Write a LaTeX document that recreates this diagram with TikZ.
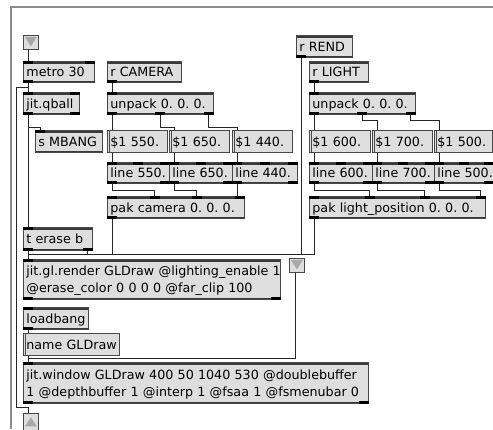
\documentclass[tikz,border=0pt]{standalone}
\usepackage{fontspec}
\newfontfamily\maxfont{DejaVu Sans}
\usetikzlibrary{calc}
\definecolor{mFill}{RGB}{222,222,222}
\definecolor{mLine}{RGB}{72,72,72}
\definecolor{mBand}{RGB}{58,58,58}
\definecolor{mFrame}{RGB}{140,140,140}
\definecolor{mTri}{RGB}{168,168,168}
\tikzset{
  obj/.style={draw=mLine, fill=mFill, line width=0.8pt, anchor=north west,
              inner xsep=3pt, inner ysep=0pt, align=left,
              font=\maxfont\fontsize{12.7pt}{17pt}\selectfont\frenchspacing,
              path picture={
                \fill[mBand] (path picture bounding box.north west)
                  rectangle ([yshift=-2.5pt]path picture bounding box.north east);
                \fill[mBand] (path picture bounding box.south west)
                  rectangle ([yshift=1.5pt]path picture bounding box.south east);}},
  msg/.style={path picture={
                \draw[mLine, line width=0.6pt]
                  ([xshift=2.2pt]path picture bounding box.north west)
                  -- ([xshift=2.2pt]path picture bounding box.south west);}},
  inlt/.style={draw=mLine, fill=mFill, line width=0.8pt, anchor=north west,
               minimum width=15pt, minimum height=14pt, inner sep=0pt,
               path picture={
                 \fill[mTri] ([shift={(1.5pt,-1.5pt)}]path picture bounding box.north west)
                   -- ([shift={(-1.5pt,-1.5pt)}]path picture bounding box.north east)
                   -- ([yshift=3pt]path picture bounding box.south) -- cycle;}},
  outlt/.style={inlt, minimum height=18pt,
               path picture={
                 \fill[mTri] ([shift={(1.5pt,5pt)}]path picture bounding box.south west)
                   -- ([shift={(-1.5pt,5pt)}]path picture bounding box.south east)
                   -- ([yshift=-4pt]path picture bounding box.north) -- cycle;}},
  tab/.style={fill=black},
  wire/.style={draw=black!85, line width=0.9pt},
  frame/.style={draw=mFrame, line width=1.4pt},
}
% box from (x0,y0) to (x1,y1), text set flush left, never broken
\newcommand{\MaxObj}[7][]{%
  \pgfmathsetlengthmacro{\boxtw}{(#5)-(#3)-6}%
  \pgfmathsetlengthmacro{\boxht}{(#6)-(#4)}%
  \node[obj,#1,text width=\boxtw,minimum height=\boxht] (#2) at (#3,#4)
    {\raisebox{-1.5pt}[\height][\depth]{\begin{tabular}{@{}l@{}}#7\end{tabular}}};}
% black inlet / outlet tabs
\newcommand{\Ports}[3]{%
  \ifnum#2>0
    \foreach \i in {1,...,#2}{%
      \pgfmathsetmacro{\portf}{(\i-1)/max(#2-1,1)}%
      \fill[tab] ($(#1.north west)!\portf!(#1.north east)+(-10*\portf,0)$) rectangle ++(10,2.5);}%
  \fi
  \ifnum#3>0
    \foreach \i in {1,...,#3}{%
      \pgfmathsetmacro{\portf}{(\i-1)/max(#3-1,1)}%
      \fill[tab] ($(#1.south west)!\portf!(#1.south east)+(-10*\portf,0)$) rectangle ++(10,-2.5);}%
  \fi}

\begin{document}
\begin{tikzpicture}[x=1pt,y=-1pt]
  \useasboundingbox (0,0) rectangle (493,429);
  \fill[white] (0,0) rectangle (493,429);
  \draw[frame] (10,7) -- (493,7);
  \draw[frame] (11,7) -- (11,429);

  %====================== LEFT COLUMN ======================
  \node[inlt] (inA) at (23,35) {};
  \MaxObj{metro}{23}{61}{94}{82}{metro 30}
  \MaxObj{qball}{23}{92}{79}{114}{jit.qball}
  \MaxObj{smbang}{35}{130}{102}{152}{s MBANG}
  \MaxObj{terase}{23}{227}{92}{250}{t erase b}
  \MaxObj{render}{23}{259}{280}{299}{jit.gl.render GLDraw @lighting\_enable 1\\@erase\_color 0 0 0 0 @far\_clip 100}
  \node[inlt] (inB) at (289,258) {};
  \MaxObj{loadbang}{23}{307}{88}{329}{loadbang}
  \MaxObj[msg]{nameGL}{23}{333}{119}{355}{name GLDraw}
  \MaxObj{window}{23}{362}{368}{403}{jit.window GLDraw 400 50 1040 530 @doublebuffer\\1 @depthbuffer 1 @interp 1 @fsaa 1 @fsmenubar 0}
  \node[outlt] (outC) at (23,413) {};

  %====================== CAMERA ======================
  \MaxObj{rcam}{107}{61}{181}{82}{r CAMERA}
  \MaxObj{unpackC}{107}{92}{213}{114}{unpack 0. 0. 0.}
  \MaxObj[msg]{m550}{107}{130}{167}{152}{\$1 550.}
  \MaxObj[msg]{m650}{169}{130}{229}{152}{\$1 650.}
  \MaxObj[msg]{m440}{232}{130}{292}{152}{\$1 440.}
  \MaxObj{l550}{107}{162}{169}{183}{line 550.}
  \MaxObj{l650}{169}{162}{232}{183}{line 650.}
  \MaxObj{l440}{232}{162}{297}{183}{line 440.}
  \MaxObj{pakC}{107}{196}{244}{218}{pak camera 0. 0. 0.}

  %====================== LIGHT ======================
  \MaxObj{rrend}{296}{35}{352}{57}{r REND}
  \MaxObj{rlight}{309}{61}{368}{82}{r LIGHT}
  \MaxObj{unpackL}{309}{92}{415}{114}{unpack 0. 0. 0.}
  \MaxObj[msg]{m600}{309}{130}{370}{152}{\$1 600.}
  \MaxObj[msg]{m700}{372}{130}{432}{152}{\$1 700.}
  \MaxObj[msg]{m500}{434}{130}{492}{152}{\$1 500.}
  \MaxObj{l600}{309}{162}{372}{183}{line 600.}
  \MaxObj{l700}{372}{162}{434}{183}{line 700.}
  \MaxObj{l500}{434}{162}{493}{183}{line 500.}
  \MaxObj{pakL}{309}{196}{485}{218}{pak light\_position 0. 0. 0.}

  %====================== TABS ======================
  \Ports{metro}{2}{1}
  \Ports{qball}{2}{2}
  \Ports{smbang}{1}{0}
  \Ports{terase}{1}{2}
  \Ports{render}{1}{2}
  \Ports{loadbang}{1}{1}
  \Ports{window}{1}{2}
  \Ports{rcam}{0}{1}
  \Ports{unpackC}{1}{3}
  \Ports{l550}{3}{2}
  \Ports{l650}{3}{2}
  \Ports{l440}{3}{2}
  \Ports{pakC}{4}{1}
  \Ports{rrend}{0}{1}
  \Ports{rlight}{0}{1}
  \Ports{unpackL}{1}{3}
  \Ports{l600}{3}{2}
  \Ports{l700}{3}{2}
  \Ports{l500}{3}{2}
  \Ports{pakL}{4}{1}

  %====================== CORDS ======================
  \draw[wire] ([xshift=5pt]inA.south west) -- ([xshift=5pt]metro.north west);
  \draw[wire] ([xshift=5pt]metro.south west) -- ([xshift=5pt]qball.north west);
  \draw[wire] ([xshift=5pt]metro.south west) -- ++(0,5) -- ++(-12,0)
      |- ($(outC.north west)+(5,-6)$) -- ([xshift=5pt]outC.north west);
  \draw[wire] ([xshift=5pt]qball.south west) -- ([xshift=5pt]terase.north west);
  \draw[wire] ([xshift=5pt]qball.south west) -- ++(0,13) -| ([xshift=5pt]smbang.north west);

  % camera chain
  \draw[wire] ([xshift=5pt]rcam.south west) -- ([xshift=5pt]unpackC.north west);
  \draw[wire] ([xshift=5pt]unpackC.south west) -- ([xshift=5pt]m550.north west);
  \draw[wire] ([xshift=53pt]unpackC.south west) -- ++(0,13) -| ([xshift=5pt]m650.north west);
  \draw[wire] ([xshift=101pt]unpackC.south west) -- ++(0,13) -| ([xshift=5pt]m440.north west);
  \draw[wire] ([xshift=5pt]m550.south west) -- ([xshift=5pt]l550.north west);
  \draw[wire] ([xshift=5pt]m650.south west) -- ([xshift=5pt]l650.north west);
  \draw[wire] ([xshift=5pt]m440.south west) -- ([xshift=5pt]l440.north west);
  \draw[wire] ([xshift=5pt]l550.south west) -- ++(0,7) -| ([xshift=47.3pt]pakC.north west);
  \draw[wire] ([xshift=5pt]l650.south west) -- ++(0,7) -| ([xshift=89.7pt]pakC.north west);
  \draw[wire] ([xshift=5pt]l440.south west) -- ([xshift=5pt]l440.south west |- pakC.north);

  % light chain
  \draw[wire] ([xshift=5pt]rlight.south west) -- ([xshift=5pt]unpackL.north west);
  \draw[wire] ([xshift=5pt]unpackL.south west) -- ([xshift=5pt]m600.north west);
  \draw[wire] ([xshift=53pt]unpackL.south west) -- ++(0,6) -| ([xshift=5pt]m700.north west);
  \draw[wire] ([xshift=101pt]unpackL.south west) -- ++(0,6) -| ([xshift=5pt]m500.north west);
  \draw[wire] ([xshift=5pt]m600.south west) -- ([xshift=5pt]l600.north west);
  \draw[wire] ([xshift=5pt]m700.south west) -- ([xshift=5pt]l700.north west);
  \draw[wire] ([xshift=5pt]m500.south west) -- ([xshift=5pt]l500.north west);
  \draw[wire] ([xshift=5pt]l600.south west) -- ++(0,7) -| ([xshift=60.3pt]pakL.north west);
  \draw[wire] ([xshift=5pt]l700.south west) -- ++(0,7) -| ([xshift=115.7pt]pakL.north west);
  \draw[wire] ([xshift=5pt]l500.south west) -- ++(0,7) -| ([xshift=171pt]pakL.north west);

  % into the renderer
  \draw[wire] ([xshift=5pt]terase.south west) -- ([xshift=5pt]render.north west);
  \draw[wire] ([xshift=64pt]terase.south west) |- ($(render.north west)+(5,-5)$)
      -- ([xshift=5pt]render.north west);
  \draw[wire] ([xshift=5pt]pakC.south west) |- ($(render.north west)+(5,-5)$)
      -- ([xshift=5pt]render.north west);
  \draw[wire] ([xshift=5pt]rrend.south west) |- ($(render.north west)+(5,-5)$)
      -- ([xshift=5pt]render.north west);
  \draw[wire] ([xshift=5pt]pakL.south west) |- ($(render.north west)+(5,-5)$)
      -- ([xshift=5pt]render.north west);

  % window
  \draw[wire] ([xshift=-1pt]inB.south) |- ($(window.north west)+(5,-4)$)
      -- ([xshift=5pt]window.north west);
  \draw[wire] ([xshift=5pt]loadbang.south west) -- ([xshift=5pt]nameGL.north west);
  \draw[wire] ([xshift=5pt]nameGL.south west) -- ([xshift=5pt]window.north west);
\end{tikzpicture}
\end{document}
